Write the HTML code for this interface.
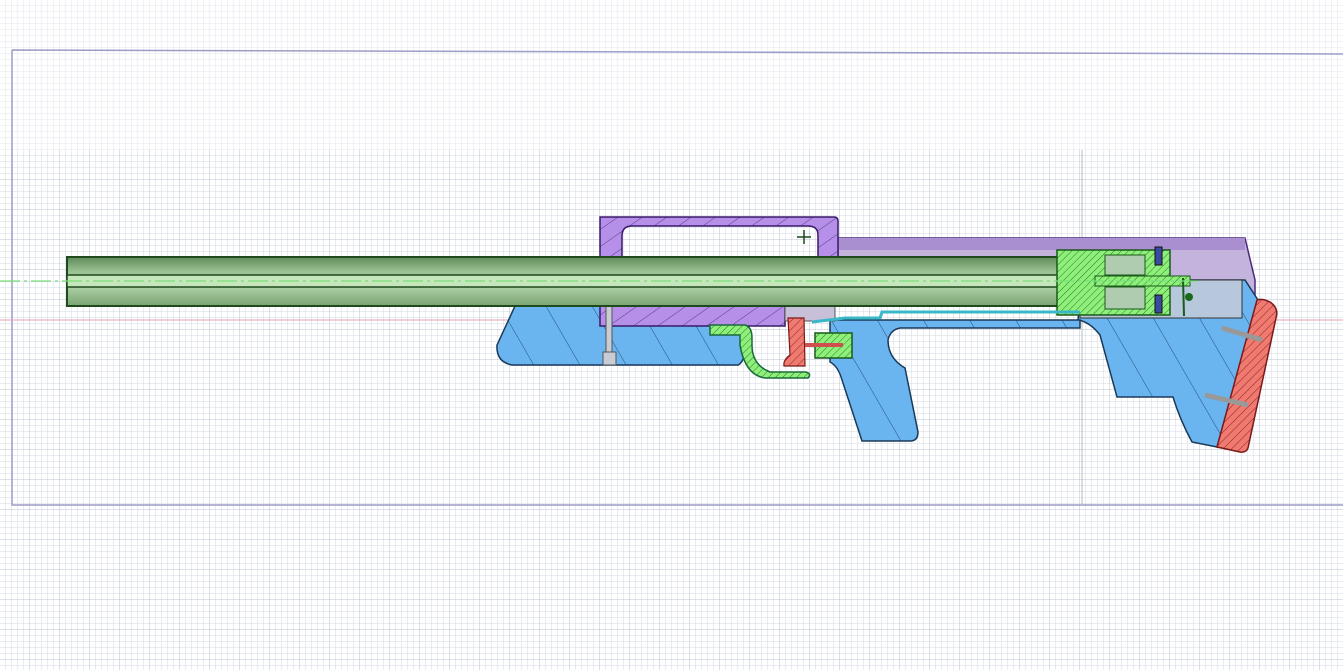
<!DOCTYPE html>
<html><head><meta charset="utf-8"><style>html,body{margin:0;padding:0;background:#fff;overflow:hidden}svg{display:block}</style></head>
<body>
<svg width="1343" height="670" viewBox="0 0 1343 670" xmlns="http://www.w3.org/2000/svg">
<defs>
<pattern id="g" width="6" height="6" patternUnits="userSpaceOnUse"><path d="M6 0V6M0 6H6" stroke="#d3d8e3" stroke-width="1" fill="none"/></pattern>
<pattern id="G" width="30" height="30" patternUnits="userSpaceOnUse"><path d="M30 0V30M0 30H30" stroke="#b9c0d0" stroke-width="1" fill="none"/></pattern>
<pattern id="hp" width="14" height="14" patternUnits="userSpaceOnUse" patternTransform="rotate(-35)"><rect width="14" height="14" fill="#b58fe8"/><path d="M0 0H14" stroke="#5a3a8a" stroke-width="1"/></pattern>
<pattern id="hb" width="40" height="40" patternUnits="userSpaceOnUse" patternTransform="rotate(60)"><rect width="40" height="40" fill="#6ab4f0"/><path d="M0 0H40" stroke="#24507a" stroke-width="1"/></pattern>
<pattern id="hr" width="6" height="6" patternUnits="userSpaceOnUse" patternTransform="rotate(-45)"><rect width="6" height="6" fill="#f07a70"/><path d="M0 0H6" stroke="#8a2a2a" stroke-width="1"/></pattern>
<pattern id="hg" width="5" height="5" patternUnits="userSpaceOnUse" patternTransform="rotate(-45)"><rect width="5" height="5" fill="#8ef07a"/><path d="M0 0H5" stroke="#2a7a2a" stroke-width="1"/></pattern>
<linearGradient id="bar" x1="0" y1="0" x2="0" y2="1"><stop offset="0" stop-color="#5f8a5a"/><stop offset=".3" stop-color="#9cc293"/><stop offset=".6" stop-color="#aed0a5"/><stop offset="1" stop-color="#7aa472"/></linearGradient>
</defs>
<rect width="1343" height="670" fill="#fff"/>
<rect width="1343" height="670" fill="url(#g)"/>
<rect y="150" width="1343" height="520" fill="url(#G)"/>
<rect x="0" y="0" width="1343" height="150" fill="#fff" opacity=".3"/>
<path d="M12 50L1343 54M12 50V505H1343" stroke="#9c9cc8" stroke-width="1.5" fill="none"/>
<line x1="0" y1="320" x2="1343" y2="320" stroke="#e8a0b0" stroke-width="1"/>
<line x1="1082" y1="150" x2="1082" y2="505" stroke="#b0c0c0" stroke-width="1"/>
<path d="M838 238H1245L1255 280V306H838Z" fill="#c4b3dc" stroke="#4a2a7a" stroke-width="1.5"/>
<rect x="838" y="238" width="407" height="12" fill="#a98fd0"/>
<path d="M1082 280H1245L1258 300L1217 447L1192 442Q1180 420 1173 397H1117L1100 335Q1090 322 1078 320Z" fill="url(#hb)" stroke="#1a3a5a" stroke-width="1.5"/>
<path d="M1080 280H1242V318H1080Z" fill="#b8c8dc" stroke="#333" stroke-width="1"/>
<path d="M515 306H745V345Q745 362 738 365H512Q496 362 497 345Z" fill="url(#hb)" stroke="#1a3a5a" stroke-width="1.5"/>
<path d="M830 320H1080V328H900Q890 330 888 340Q888 358 905 368L918 432Q918 441 910 441H862L842 380Q838 366 830 362Z" fill="url(#hb)" stroke="#1a3a5a" stroke-width="1.5"/>
<path d="M600 217H834Q838 217 838 221V257H818V235Q818 226 808 226H632Q622 226 622 236V257H600Z" fill="url(#hp)" stroke="#3a1a6a" stroke-width="1.5"/>
<rect x="600" y="306" width="185" height="20" fill="url(#hp)" stroke="#3a1a6a" stroke-width="1.5"/>
<rect x="785" y="306" width="50" height="15" fill="#c8c0d8" stroke="#555" stroke-width="1"/>
<path d="M804 230V244M797 237H811" stroke="#1a4a1a" stroke-width="1.5"/>
<rect x="606" y="306" width="6" height="46" fill="#c8ccd4" stroke="#555"/>
<rect x="603" y="352" width="13" height="13" fill="#c8ccd4" stroke="#555"/>
<rect x="67" y="257" width="995" height="49" fill="url(#bar)" stroke="#1e4a1e" stroke-width="2"/>
<rect x="67" y="275" width="995" height="12" fill="#c6e6bc" stroke="#1e4a1e" stroke-width="1.5"/>
<path d="M1057 250H1170V315H1057Z" fill="url(#hg)" stroke="#1a5a1a" stroke-width="1.5"/>
<rect x="1105" y="255" width="40" height="20" fill="#b0ccb0" stroke="#1a5a1a"/>
<rect x="1105" y="287" width="40" height="22" fill="#b0ccb0" stroke="#1a5a1a"/>
<rect x="1095" y="276" width="95" height="10" fill="url(#hg)" stroke="#1a5a1a"/>
<rect x="1155" y="247" width="7" height="18" fill="#3a4aa0" stroke="#111"/>
<rect x="1155" y="295" width="7" height="18" fill="#3a4aa0" stroke="#111"/>
<circle cx="1189" cy="297" r="4" fill="#1a6a1a"/>
<line x1="1183" y1="278" x2="1184" y2="316" stroke="#1a5a1a" stroke-width="2"/>
<path d="M1257 300Q1262 298 1270 302Q1279 308 1276 318L1248 448Q1246 453 1240 452L1217 447Z" fill="url(#hr)" stroke="#7a1a1a" stroke-width="1.5"/>
<path d="M1222 328L1262 340M1205 395L1248 405" stroke="#999" stroke-width="5"/>
<path d="M710 325H745Q752 327 752 338V345Q752 365 770 372H806Q812 374 808 378H765Q745 375 740 345V335H710Z" fill="url(#hg)" stroke="#1a6a3a" stroke-width="1.5"/>
<path d="M788 318H804L805 366H784Q783 360 790 355Z" fill="url(#hr)" stroke="#7a1a1a" stroke-width="1.2"/>
<rect x="815" y="333" width="37" height="25" fill="url(#hg)" stroke="#1a5a1a" stroke-width="1.5"/>
<rect x="805" y="343" width="38" height="4" fill="#d05050"/>
<path d="M812 322L845 318H880L882 312H1080" stroke="#3ab8c8" stroke-width="3" fill="none"/>
<line x1="0" y1="281" x2="1200" y2="281" stroke="#7ae07a" stroke-width="1.2" stroke-dasharray="20 4 3 4"/>
</svg>
</body></html>
